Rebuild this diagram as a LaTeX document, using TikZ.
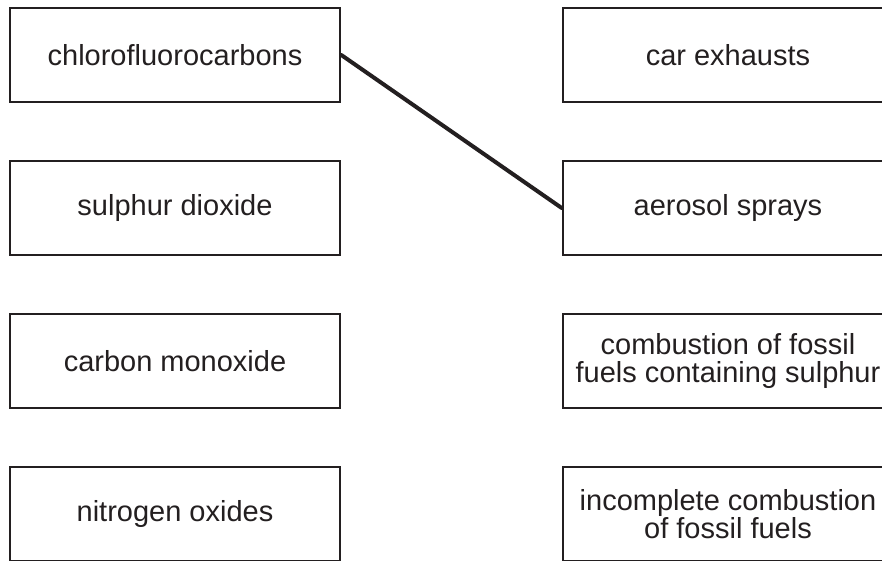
\documentclass[tikz,border=0pt]{standalone}
\usepackage{fontspec}
\setmainfont{Liberation Sans}
\usepackage{tikz}
\usetikzlibrary{arrows}
\definecolor{ink}{RGB}{35,31,32}

\begin{document}
\begin{tikzpicture}[line cap=round,line join=round,x=1pt,y=-1pt,
  box/.style={draw=ink,line width=2.6pt,line cap=butt,line join=miter,
    minimum width=330pt,minimum height=94pt,inner sep=0pt,align=center,
    text=ink,font=\fontsize{29}{28}\selectfont}]
\useasboundingbox (0,0) rectangle (882,560);
\clip (0,0) rectangle (882,560);
% pollutants
\node[box] (cfc) at (175,55) {chlorofluorocarbons};
\node[box] (so2) at (175,208) {sulphur dioxide};
\node[box] (co) at (175,361) {carbon monoxide};
\node[box] (nox) at (175,514) {nitrogen oxides};
% sources
\node[box] (car) at (728,55) {car exhausts};
\node[box] (spray) at (728,208) {aerosol sprays};
\node[box] (fossil) at (728,361) {combustion of fossil\\fuels containing sulphur};
\node[box] (incomp) at (728,514) {incomplete combustion\\of fossil fuels};
\draw [draw=ink,line width=4pt] (cfc.east) -- (spray.west);
\end{tikzpicture}
\end{document}
